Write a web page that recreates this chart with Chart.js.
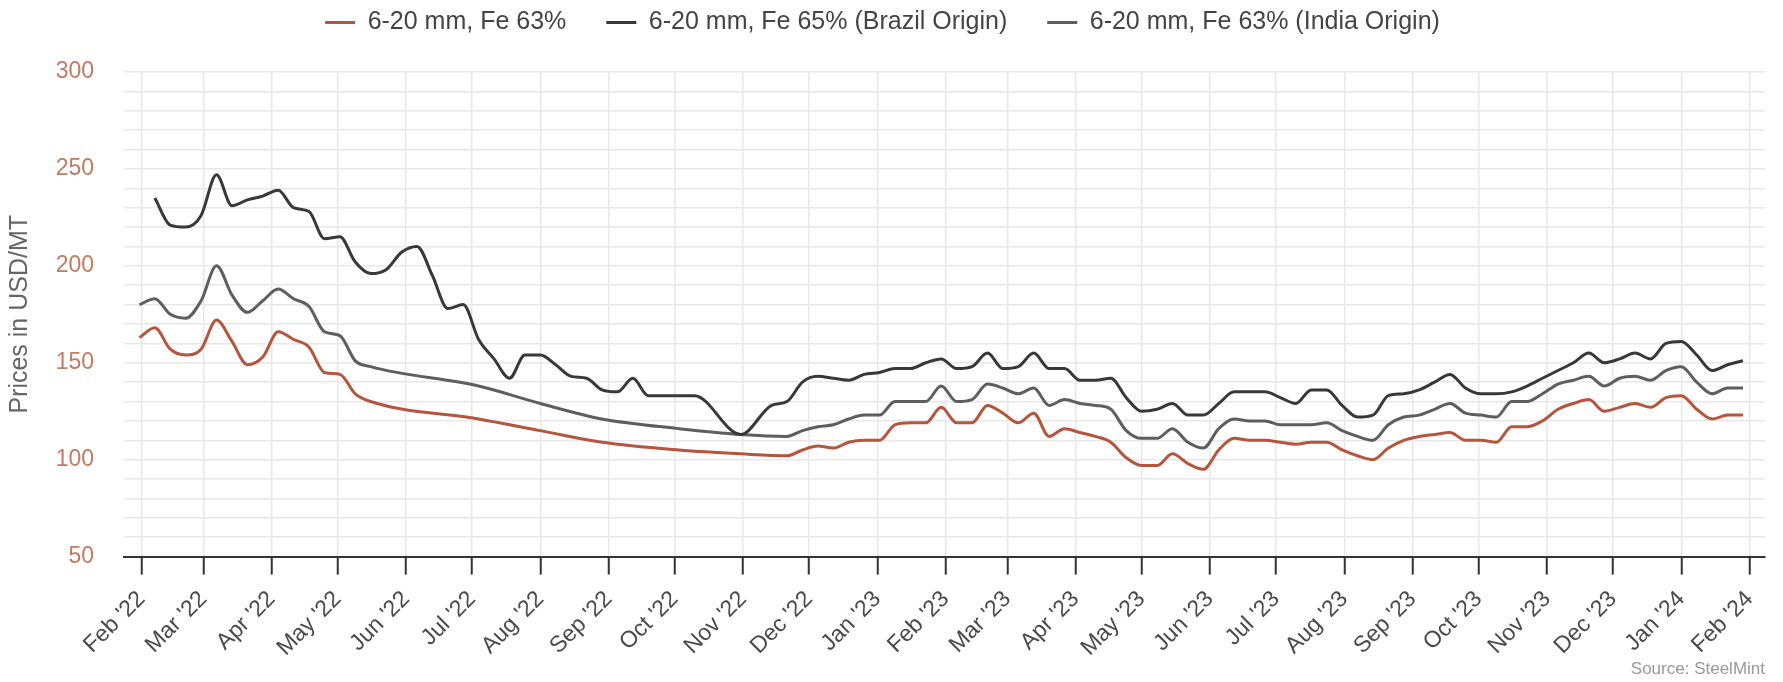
<!DOCTYPE html>
<html>
<head>
<meta charset="utf-8">
<title>Iron ore lump prices</title>
<script src="https://cdn.jsdelivr.net/npm/chart.js@4.4.1/dist/chart.umd.min.js"></script>
<style>
    html, body { margin: 0; padding: 0; background: #fff; }
    #wrap { width: 1783px; height: 682px; }
</style>
</head>
<body>
<div id="wrap"><canvas id="lumpChart" width="1783" height="682"></canvas></div>
<script>
// weekly assessment dates
var weeks = [
    '2022-01-31', '2022-02-07', '2022-02-14', '2022-02-21', '2022-02-28', '2022-03-07', '2022-03-14', '2022-03-21', '2022-03-28', '2022-04-04',
    '2022-04-11', '2022-04-18', '2022-04-25', '2022-05-02', '2022-05-09', '2022-05-16', '2022-05-23', '2022-05-30', '2022-06-06', '2022-06-13',
    '2022-06-20', '2022-06-27', '2022-07-04', '2022-07-11', '2022-07-18', '2022-07-25', '2022-08-01', '2022-08-08', '2022-08-15', '2022-08-22',
    '2022-08-29', '2022-09-05', '2022-09-12', '2022-09-19', '2022-09-26', '2022-10-03', '2022-10-10', '2022-10-17', '2022-10-24', '2022-10-31',
    '2022-11-07', '2022-11-14', '2022-11-21', '2022-11-28', '2022-12-05', '2022-12-12', '2022-12-19', '2022-12-26', '2023-01-02', '2023-01-09',
    '2023-01-16', '2023-01-23', '2023-01-30', '2023-02-06', '2023-02-13', '2023-02-20', '2023-02-27', '2023-03-06', '2023-03-13', '2023-03-20',
    '2023-03-27', '2023-04-03', '2023-04-10', '2023-04-17', '2023-04-24', '2023-05-01', '2023-05-08', '2023-05-15', '2023-05-22', '2023-05-29',
    '2023-06-05', '2023-06-12', '2023-06-19', '2023-06-26', '2023-07-03', '2023-07-10', '2023-07-17', '2023-07-24', '2023-07-31', '2023-08-07',
    '2023-08-14', '2023-08-21', '2023-08-28', '2023-09-04', '2023-09-11', '2023-09-18', '2023-09-25', '2023-10-02', '2023-10-09', '2023-10-16',
    '2023-10-23', '2023-10-30', '2023-11-06', '2023-11-13', '2023-11-20', '2023-11-27', '2023-12-04', '2023-12-11', '2023-12-18', '2023-12-25',
    '2024-01-01', '2024-01-08', '2024-01-15', '2024-01-22', '2024-01-29'
];

// 6-20 mm, Fe 63%
var fe63 = [
    163, 168, 157, 154, 157, 172, 161, 149, 153, 166,
    162, 158, 145, 144, 134, 130, null, null, null, null,
    null, null, 121, null, null, null, 115, null, null, null,
    109, null, null, null, null, 105, null, null, null, 103,
    null, null, 102, 105, 107, 106, 109, 110, 110, 118,
    119, 119, 127, 119, 119, 128, 124, 119, 124, 112,
    116, 114, 112, 109, 101, 97, 97, 103, 98, 95,
    105, 111, 110, 110, 109, 108, 109, 109, 105, 102,
    100, 106, 110, 112, 113, 114, 110, 110, 109, 117,
    117, 120, 126, 129, 131, 125, 127, 129, 127, 132,
    133, 126, 121, 123, 123
];

// 6-20 mm, Fe 65% (Brazil Origin)
var brazil65 = [
    null, 235, 221, 220, 226, 247, 231, 234, 236, 239,
    230, 228, 214, 215, 202, 196, 198, 207, 210, 195,
    178, 180, 162, 152, 142, 154, 154, 149, 143, 142,
    136, 135, 142, 133, 133, 133, 133, null, null, 113,
    null, 128, 130, 140, 143, 142, 141, 144, 145, 147,
    147, 150, 152, 147, 148, 155, 147, 148, 155, 147,
    147, 141, 141, 142, 132, 125, 126, 129, 123, 123,
    129, 135, 135, 135, 132, 129, 136, 136, 128, 122,
    123, 133, 134, 136, 140, 144, 137, 134, 134, 135,
    138, 142, 146, 150, 155, 150, 152, 155, 152, 160,
    161, 154, 146, 149, 151
];

// 6-20 mm, Fe 63% (India Origin)
var india63 = [
    180, 183, 175, 173, 182, 200, 185, 176, 182, 188,
    183, 179, 166, 164, 151, 148, null, null, null, null,
    null, null, 138, null, null, null, 129, null, null, null,
    121, null, null, null, null, 116, null, null, null, 113,
    null, null, 112, 115, 117, 118, 121, 123, 123, 130,
    130, 130, 138, 130, 131, 139, 137, 134, 137, 128,
    131, 129, 128, 126, 115, 111, 111, 116, 109, 106,
    116, 121, 120, 120, 118, 118, 118, 119, 115, 112,
    110, 118, 122, 123, 126, 129, 124, 123, 122, 130,
    130, 134, 139, 141, 143, 138, 142, 143, 141, 146,
    148, 140, 134, 137, 137
];

var monthTicks = [
    '2022-02-01', '2022-03-01', '2022-04-01', '2022-05-01', '2022-06-01', '2022-07-01', '2022-08-01',
    '2022-09-01', '2022-10-01', '2022-11-01', '2022-12-01', '2023-01-01', '2023-02-01', '2023-03-01',
    '2023-04-01', '2023-05-01', '2023-06-01', '2023-07-01', '2023-08-01', '2023-09-01', '2023-10-01',
    '2023-11-01', '2023-12-01', '2024-01-01', '2024-02-01'
];
var monthLabels = [
    "Feb '22", "Mar '22", "Apr '22", "May '22", "Jun '22", "Jul '22", "Aug '22",
    "Sep '22", "Oct '22", "Nov '22", "Dec '22", "Jan '23", "Feb '23", "Mar '23",
    "Apr '23", "May '23", "Jun '23", "Jul '23", "Aug '23", "Sep '23", "Oct '23",
    "Nov '23", "Dec '23", "Jan '24", "Feb '24"
];

var fontFamily = '"Liberation Sans", Arial, Helvetica, sans-serif';

// days since 1 Feb 2022, the x axis runs on this
function dayOf(dateStr) {
    return (Date.parse(dateStr) - Date.parse('2022-02-01')) / 86400000;
}

function toPoints(values) {
    return weeks.map(function (d, i) {
        return { x: dayOf(d), y: values[i] };
    });
}

function lineSet(label, values, color) {
    return {
        label: label,
        data: toPoints(values),
        borderColor: color,
        backgroundColor: color,
        borderWidth: 3,
        pointRadius: 0,
        pointHoverRadius: 0,
        cubicInterpolationMode: 'monotone',
        spanGaps: true,
        fill: false
    };
}

// legend items sit far apart, but the legend itself stays short
var legendGap = {
    id: 'legendGap',
    beforeUpdate: function (chart) {
        var legend = chart.legend;
        if (legend && !legend._gapPatched) {
            var fit = legend.fit;
            legend.fit = function () {
                fit.call(this);
                this.height = 102;
            };
            legend._gapPatched = true;
        }
    }
};

var ctx = document.getElementById('lumpChart').getContext('2d');
var chart = new Chart(ctx, {
    type: 'line',
    data: {
        datasets: [
            lineSet('6-20 mm, Fe 63%', fe63, '#b4553c'),
            lineSet('6-20 mm, Fe 65% (Brazil Origin)', brazil65, '#383838'),
            lineSet('6-20 mm, Fe 63% (India Origin)', india63, '#5e5e5e')
        ]
    },
    plugins: [legendGap],
    options: {
        responsive: false,
        animation: false,
        layout: {
            padding: { top: -30, right: 18, bottom: 0, left: 0 }
        },
        plugins: {
            legend: {
                position: 'top',
                labels: {
                    boxWidth: 30,
                    boxHeight: 3,
                    padding: 40,
                    color: '#444',
                    font: { family: fontFamily, size: 25 },
                    generateLabels: function (chart) {
                        return chart.data.datasets.map(function (ds, i) {
                            return {
                                text: ds.label,
                                fillStyle: ds.borderColor,
                                strokeStyle: ds.borderColor,
                                lineWidth: 0,
                                hidden: false,
                                fontColor: '#444',
                                datasetIndex: i
                            };
                        });
                    }
                }
            },
            subtitle: {
                display: true,
                text: 'Source: SteelMint',
                position: 'bottom',
                align: 'end',
                color: '#999',
                font: { family: fontFamily, size: 17, weight: 'normal' },
                padding: { top: 0, bottom: 2 }
            },
            tooltip: { enabled: false }
        },
        scales: {
            x: {
                type: 'linear',
                min: -8,
                max: 737,
                afterBuildTicks: function (scale) {
                    scale.ticks = monthTicks.map(function (d) {
                        return { value: dayOf(d) };
                    });
                },
                afterFit: function (scale) {
                    scale.height = 103;
                },
                ticks: {
                    autoSkip: false,
                    minRotation: 45,
                    maxRotation: 45,
                    padding: 11,
                    color: '#4a4a4a',
                    font: { family: fontFamily, size: 23 },
                    callback: function (value, index) {
                        return monthLabels[index];
                    }
                },
                grid: {
                    color: '#e8e8e8',
                    lineWidth: 1.5,
                    tickColor: '#333',
                    tickLength: 18,
                    tickWidth: 2
                },
                border: { display: true, color: '#333', width: 2 }
            },
            y: {
                min: 50,
                max: 300,
                afterFit: function (scale) {
                    scale.width = 124;
                },
                ticks: {
                    stepSize: 10,
                    autoSkip: false,
                    padding: 30,
                    color: '#c27a62',
                    font: { family: fontFamily, size: 23 },
                    callback: function (value) {
                        return value % 50 === 0 ? value : '';
                    }
                },
                grid: {
                    color: '#e8e8e8',
                    lineWidth: 1.5,
                    drawTicks: false
                },
                border: { display: false },
                title: {
                    display: true,
                    text: 'Prices in USD/MT',
                    color: '#666',
                    font: { family: fontFamily, size: 25 },
                    padding: { top: 5, bottom: 0 }
                }
            }
        }
    }
});
</script>
</body>
</html>
